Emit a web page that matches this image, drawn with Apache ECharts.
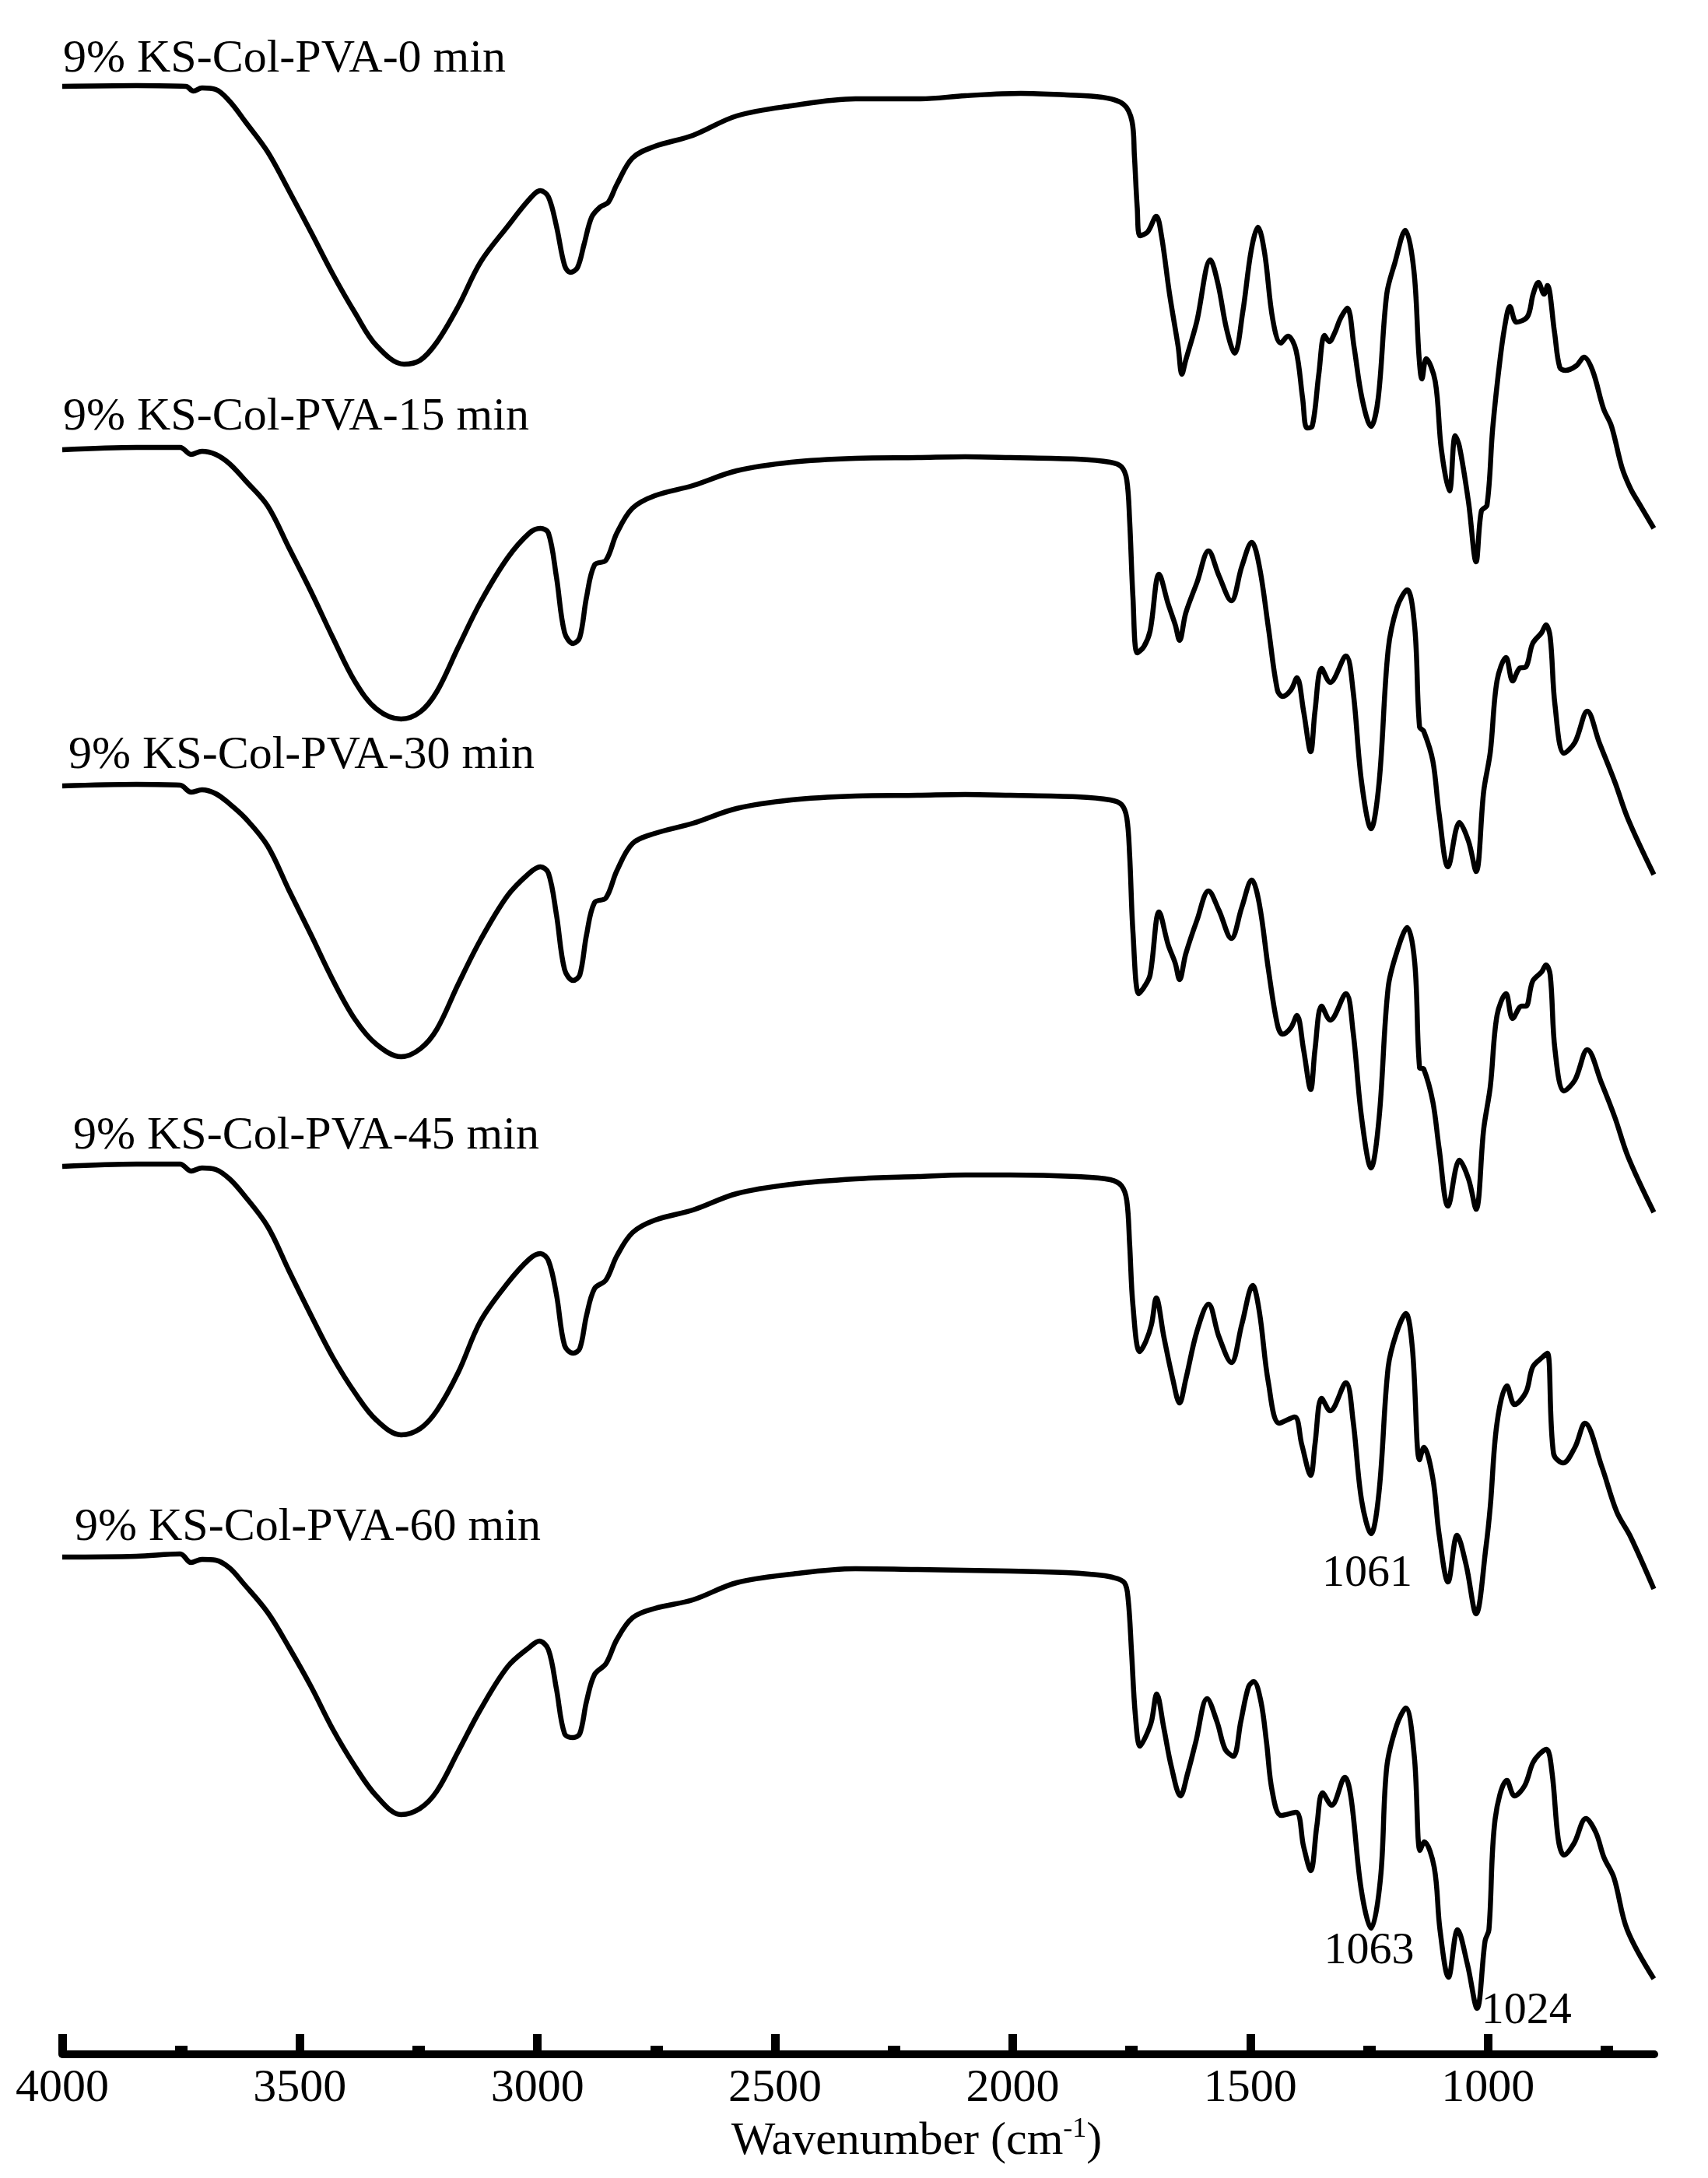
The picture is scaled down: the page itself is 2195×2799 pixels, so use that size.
<!DOCTYPE html>
<html><head><meta charset="utf-8">
<script src="https://cdn.jsdelivr.net/npm/echarts@6/dist/echarts.min.js"></script>
<style>html,body{margin:0;padding:0;background:#fff}#c{width:2195px;height:2799px}</style>
</head><body><div id="c"></div>
<script>
// ---------- DATA ----------
const majorTicks = [4000, 3500, 3000, 2500, 2000, 1500, 1000];
const minorTicks = [3750, 3250, 2750, 2250, 1750, 1250, 750];
const sampleNames = ['9% KS-Col-PVA-0 min', '9% KS-Col-PVA-15 min', '9% KS-Col-PVA-30 min', '9% KS-Col-PVA-45 min', '9% KS-Col-PVA-60 min'];
// vertical stacking offset of each spectrum (a.u.)
const offsets = [252.9, 206.2, 163.0, 114.1, 63.9];
// spectra: [wavenumber (cm-1), relative transmittance (a.u.)]
const spec0 = [[4000,0],[3844,0.1],[3740,0],[3724,-0.6],[3706,-0.2],[3677,-0.4],[3648,-1.9],[3614,-4.6],[3568,-8.4],[3523,-13.4],[3476,-18.8],[3431,-24.1],[3384,-29.1],[3339,-33.3],[3281,-35.7],[3247,-35.2],[3212,-32.9],[3167,-28.3],[3120,-22.6],[3063,-18.0],[3017,-14.5],[2994,-13.4],[2977,-14.2],[2960,-18.0],[2943,-23.0],[2931,-23.9],[2916,-23.3],[2902,-20.3],[2886,-16.8],[2868,-15.5],[2851,-14.9],[2833,-12.6],[2800,-9.2],[2753,-7.7],[2673,-6.3],[2581,-3.8],[2466,-2.5],[2331,-1.6],[2194,-1.6],[2100,-1.2],[1983,-0.9],[1887,-1.1],[1812,-1.4],[1767,-2.3],[1749,-4.5],[1744,-8.9],[1738,-15.6],[1732,-19.2],[1716,-18.7],[1698,-16.7],[1687,-19.2],[1670,-26.7],[1652,-33.4],[1644,-37.0],[1636,-35.2],[1613,-30.3],[1584,-22.3],[1568,-25.4],[1550,-31.2],[1533,-34.3],[1516,-29.0],[1498,-21.0],[1484,-18.1],[1470,-21.4],[1453,-29.9],[1436,-33.0],[1421,-32.1],[1404,-33.9],[1390,-40.1],[1381,-43.9],[1370,-43.7],[1356,-37.0],[1344,-32.0],[1334,-32.8],[1322,-31.6],[1311,-29.9],[1296,-28.5],[1282,-33.4],[1265,-40.1],[1246,-43.7],[1231,-40.1],[1213,-26.7],[1196,-22.7],[1174,-18.5],[1156,-23.6],[1145,-34.8],[1139,-37.6],[1130,-35.0],[1111,-37.9],[1098,-46.7],[1081,-52.0],[1069,-44.9],[1060,-46.3],[1041,-53.4],[1025,-61.1],[1014,-54.6],[1002,-53.8],[990,-43.9],[974,-34.8],[962,-29.9],[954,-28.3],[940,-30.3],[917,-29.6],[905,-26.7],[894,-25.2],[882,-26.7],[875,-25.6],[860,-31.6],[849,-36.1],[837,-36.5],[814,-35.9],[798,-34.8],[780,-36.5],[757,-41.4],[740,-43.7],[718,-49.0],[700,-51.7],[683,-53.5],[651,-56.8]];
const spec15 = [[4000,0],[3844,0.3],[3752,0.3],[3729,-0.6],[3706,-0.2],[3677,-0.6],[3648,-1.8],[3614,-4.0],[3568,-7.2],[3523,-12.6],[3476,-18.3],[3431,-24.1],[3384,-29.8],[3339,-33.3],[3287,-34.6],[3247,-33.7],[3212,-31.1],[3167,-25.4],[3120,-19.6],[3063,-13.9],[3017,-10.7],[2994,-10.1],[2977,-10.7],[2960,-16.4],[2943,-23.5],[2925,-24.9],[2911,-24.1],[2897,-19.0],[2880,-14.8],[2856,-14.2],[2833,-10.7],[2800,-7.5],[2753,-5.9],[2673,-4.6],[2581,-2.7],[2466,-1.6],[2331,-1.1],[2200,-1.0],[2100,-0.9],[2005,-1.0],[1865,-1.2],[1795,-1.6],[1771,-2.2],[1760,-3.9],[1754,-9.1],[1747,-19.0],[1738,-26.1],[1724,-25.3],[1711,-23.3],[1692,-16.0],[1673,-19.8],[1658,-22.5],[1649,-24.5],[1636,-21.0],[1612,-17.0],[1588,-13.0],[1566,-16.2],[1540,-19.4],[1518,-15.0],[1497,-11.9],[1481,-15.0],[1462,-22.9],[1443,-30.9],[1432,-31.7],[1415,-30.9],[1402,-29.3],[1388,-33.6],[1373,-38.8],[1364,-33.6],[1350,-28.1],[1332,-29.9],[1299,-26.5],[1284,-30.9],[1266,-42.7],[1246,-48.7],[1229,-42.7],[1210,-25.7],[1191,-20.2],[1170,-18.0],[1154,-22.9],[1144,-35.6],[1135,-36.2],[1116,-40.0],[1103,-46.7],[1084,-53.6],[1060,-47.9],[1041,-50.3],[1025,-54.2],[1009,-43.9],[995,-38.8],[981,-29.7],[962,-26.7],[948,-29.7],[934,-28.1],[920,-27.9],[906,-24.9],[887,-23.5],[878,-22.5],[869,-24.1],[859,-32.8],[840,-39.0],[817,-37.6],[791,-33.6],[766,-37.6],[733,-42.7],[705,-47.5],[651,-54.6]];
const spec30 = [[4000,0],[3844,0.2],[3752,0.1],[3729,-0.8],[3706,-0.5],[3677,-1.0],[3648,-2.3],[3614,-4.2],[3568,-7.7],[3523,-13.4],[3476,-19.2],[3431,-24.9],[3384,-30.0],[3339,-33.2],[3287,-34.8],[3247,-33.8],[3212,-31.3],[3167,-25.5],[3120,-19.8],[3063,-14.1],[3017,-11.2],[2994,-10.4],[2977,-11.2],[2960,-16.6],[2943,-23.6],[2925,-25.0],[2911,-24.3],[2897,-19.2],[2880,-15.0],[2856,-14.4],[2833,-10.9],[2800,-7.4],[2753,-6.1],[2673,-4.8],[2581,-2.9],[2466,-1.8],[2331,-1.3],[2200,-1.2],[2100,-1.1],[2005,-1.2],[1865,-1.4],[1795,-1.8],[1771,-2.4],[1760,-4.1],[1754,-8.9],[1747,-18.8],[1735,-26.7],[1724,-25.9],[1711,-24.3],[1692,-16.2],[1673,-20.4],[1658,-22.8],[1649,-24.9],[1636,-21.6],[1612,-17.2],[1588,-13.5],[1566,-16.0],[1540,-19.6],[1518,-15.6],[1497,-12.1],[1481,-15.2],[1462,-23.6],[1443,-30.7],[1432,-31.9],[1415,-31.1],[1402,-29.5],[1388,-33.9],[1373,-39.0],[1364,-33.9],[1350,-28.3],[1332,-30.1],[1299,-26.7],[1284,-31.5],[1266,-42.6],[1246,-49.1],[1229,-42.6],[1210,-25.9],[1191,-21.2],[1170,-18.2],[1154,-22.8],[1144,-36.2],[1135,-36.4],[1116,-40.6],[1103,-46.5],[1084,-54.0],[1060,-48.1],[1041,-50.5],[1025,-54.4],[1009,-44.1],[995,-38.6],[981,-29.5],[962,-26.7],[948,-29.9],[929,-28.3],[920,-28.3],[906,-25.1],[887,-23.9],[878,-23.0],[869,-24.3],[859,-33.9],[840,-39.2],[817,-37.8],[791,-33.9],[761,-38.2],[733,-42.6],[705,-47.7],[651,-54.8]];
const spec45 = [[4000,0],[3844,0.3],[3752,0.3],[3729,-0.6],[3706,-0.2],[3677,-0.4],[3648,-1.6],[3620,-3.5],[3568,-7.7],[3523,-13.4],[3476,-19.2],[3431,-24.5],[3384,-29.1],[3339,-32.6],[3287,-34.5],[3247,-33.7],[3212,-31.4],[3167,-26.5],[3120,-19.9],[3063,-15.0],[3017,-11.9],[2994,-11.2],[2977,-12.1],[2960,-16.5],[2943,-23.0],[2925,-24.0],[2911,-23.4],[2897,-19.2],[2880,-15.7],[2856,-14.6],[2833,-11.5],[2800,-8.5],[2753,-6.9],[2673,-5.6],[2581,-3.5],[2466,-2.3],[2331,-1.6],[2200,-1.3],[2100,-1.1],[2005,-1.1],[1865,-1.3],[1795,-1.7],[1771,-2.5],[1760,-4.4],[1754,-10.0],[1747,-17.9],[1733,-23.8],[1720,-22.5],[1708,-20.3],[1698,-16.9],[1682,-21.9],[1663,-27.4],[1649,-30.4],[1636,-27.4],[1612,-21.1],[1588,-17.7],[1566,-21.9],[1540,-25.2],[1518,-20.3],[1495,-15.3],[1481,-18.7],[1462,-27.8],[1439,-33.0],[1407,-32.2],[1392,-35.7],[1373,-39.7],[1364,-35.7],[1350,-29.8],[1332,-31.4],[1299,-27.8],[1284,-32.6],[1266,-42.9],[1246,-47.2],[1229,-41.7],[1210,-25.8],[1193,-21.5],[1173,-18.9],[1159,-23.4],[1144,-37.7],[1135,-36.1],[1116,-40.1],[1103,-47.2],[1084,-53.4],[1065,-47.4],[1046,-51.2],[1025,-57.5],[1004,-48.8],[995,-43.6],[981,-33.0],[960,-28.2],[944,-30.6],[920,-29.0],[906,-25.8],[887,-24.6],[875,-24.0],[862,-36.9],[842,-38.1],[817,-36.1],[796,-33.0],[761,-38.5],[729,-44.4],[700,-47.6],[651,-54.3]];
const spec60 = [[4000,0],[3844,0.1],[3752,0.4],[3729,-0.7],[3706,-0.3],[3677,-0.4],[3648,-1.4],[3620,-3.3],[3568,-7.1],[3523,-11.6],[3476,-16.7],[3431,-22.1],[3384,-26.9],[3339,-30.7],[3287,-33.1],[3247,-32.3],[3212,-30.1],[3167,-25.0],[3120,-19.6],[3063,-14.1],[3017,-11.6],[2996,-10.8],[2977,-11.9],[2960,-17.0],[2943,-22.7],[2925,-23.2],[2911,-22.7],[2897,-18.6],[2880,-15.1],[2856,-13.7],[2833,-10.6],[2800,-7.8],[2753,-6.6],[2673,-5.5],[2581,-3.3],[2466,-2.2],[2331,-1.5],[2200,-1.6],[2005,-1.8],[1887,-2.0],[1839,-2.2],[1790,-2.6],[1765,-3.3],[1757,-5.5],[1750,-12.2],[1742,-20.3],[1732,-24.3],[1719,-22.9],[1708,-21.1],[1697,-17.6],[1682,-22.0],[1666,-27.0],[1647,-30.7],[1632,-27.8],[1615,-23.8],[1591,-18.2],[1570,-21.2],[1553,-24.7],[1536,-25.6],[1520,-21.1],[1504,-16.7],[1493,-16.0],[1478,-18.5],[1466,-23.8],[1454,-30.1],[1435,-33.2],[1404,-32.8],[1388,-37.2],[1373,-40.3],[1360,-34.5],[1348,-30.3],[1329,-31.9],[1301,-28.3],[1288,-31.0],[1267,-42.6],[1246,-47.7],[1226,-41.2],[1213,-27.0],[1192,-21.6],[1173,-19.4],[1155,-25.6],[1143,-37.7],[1134,-36.6],[1113,-39.9],[1101,-47.9],[1083,-54.0],[1064,-47.9],[1043,-52.4],[1023,-58.0],[1006,-49.3],[998,-47.9],[985,-33.7],[960,-28.7],[944,-30.7],[923,-29.4],[906,-26.5],[893,-25.4],[877,-24.7],[865,-27.8],[852,-36.3],[840,-38.3],[819,-36.8],[794,-33.6],[773,-35.4],[756,-38.6],[735,-41.2],[707,-47.9],[651,-54.2]];
// peak annotations: [text, wavenumber, axis value, spectrum index]
const peakNotes = [['1061', 1254, 61.7, 3], ['1063', 1250, 13.2, 4], ['1024', 919, 5.5, 4]];

// ---------- CHART ----------
const specs = [spec0, spec15, spec30, spec45, spec60];
const FONT = "'Liberation Serif','Times New Roman',serif";
const nameShift = [[1, -35], [1, -42], [8, -39], [14, -39], [16, -38]];
const chart = echarts.init(document.getElementById('c'), null, {renderer: 'canvas', width: 2195, height: 2799});

const series = specs.map((s, i) => {
  const mp = [{
    coord: [4000, offsets[i]],
    label: {show: true, formatter: sampleNames[i], position: 'inside', align: 'left', verticalAlign: 'middle',
      offset: nameShift[i], fontSize: 60, fontFamily: FONT, color: '#000'}
  }];
  peakNotes.filter(p => p[3] === i).forEach(p => mp.push({
    coord: [p[1], p[2]],
    label: {show: true, formatter: p[0], position: 'inside', align: 'center', verticalAlign: 'middle',
      fontSize: 58, fontFamily: FONT, color: '#000'}
  }));
  return {
    type: 'line', name: sampleNames[i],
    data: s.map(p => [p[0], +(p[1] + offsets[i]).toFixed(2)]),
    showSymbol: false, symbol: 'none', smooth: 0.35, silent: true, animation: false,
    lineStyle: {color: '#000', width: 6.5},
    markPoint: {symbol: 'circle', symbolSize: 1, itemStyle: {color: 'rgba(0,0,0,0)'}, silent: true, animation: false, data: mp}
  };
});

chart.setOption({
  backgroundColor: '#fff',
  animation: false,
  grid: {left: 80, right: 69, top: 0, bottom: 159, containLabel: false},
  xAxis: [{
    type: 'value', inverse: true, min: 650, max: 4000, position: 'bottom',
    name: 'Wavenumber (cm{sup|-1})', nameLocation: 'middle', nameGap: 70,
    nameTextStyle: {fontSize: 60, fontFamily: FONT, color: '#000', padding: [0, 0, 0, 150],
      rich: {sup: {fontSize: 36, fontFamily: FONT, color: '#000', padding: [0, 0, 30, 0]}}},
    axisLine: {show: true, lineStyle: {color: '#000', width: 10}},
    axisTick: {show: true, inside: true, length: 26, customValues: majorTicks, lineStyle: {color: '#000', width: 11}},
    axisLabel: {show: true, customValues: majorTicks, margin: 14, fontSize: 60, fontFamily: FONT, color: '#000',
      formatter: v => String(v)},
    splitLine: {show: false}
  }, {
    type: 'value', inverse: true, min: 650, max: 4000, position: 'bottom', offset: 0,
    axisLine: {show: false},
    axisTick: {show: true, inside: true, length: 11, customValues: minorTicks, lineStyle: {color: '#000', width: 16}},
    axisLabel: {show: false},
    splitLine: {show: false}
  }],
  yAxis: {type: 'value', min: 0, max: 264, show: false},
  series: series
});
</script></body></html>
